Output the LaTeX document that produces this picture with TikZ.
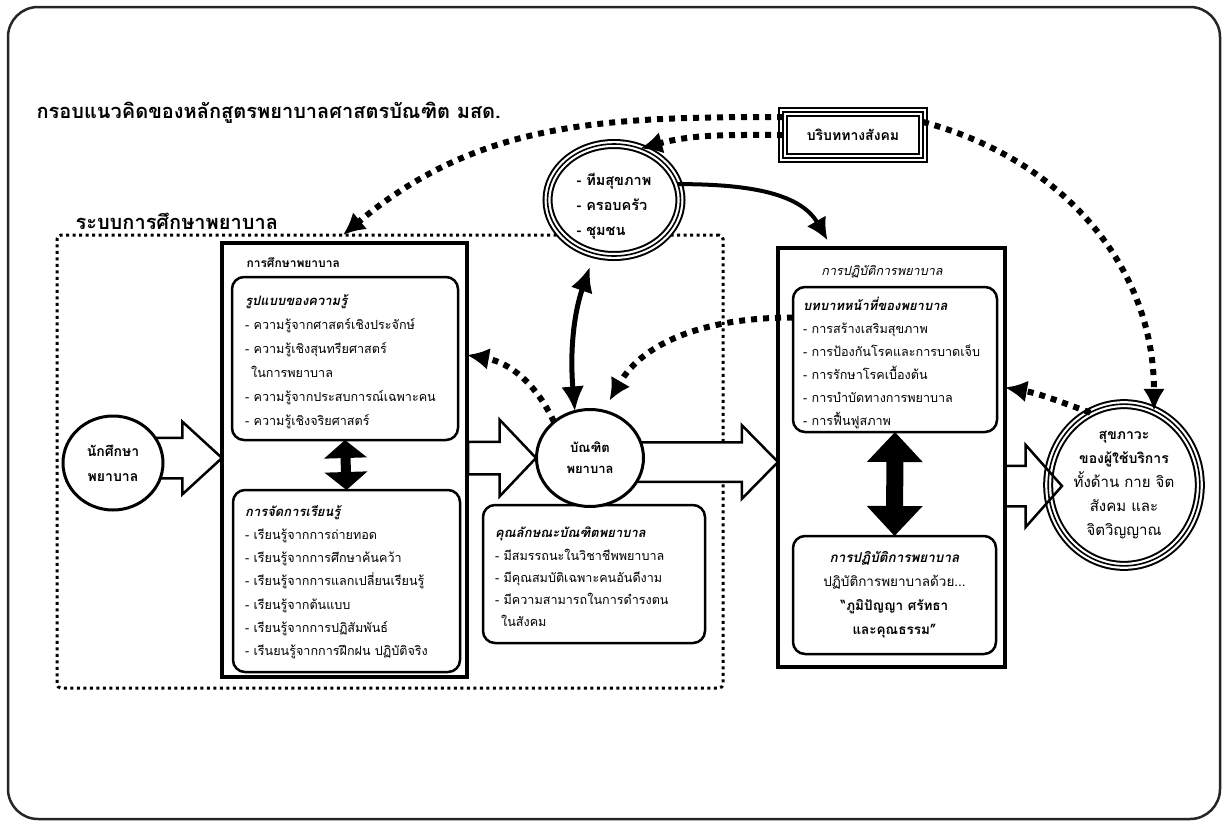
\documentclass[tikz,border=0pt]{standalone}
\usepackage{fontspec}
\setmainfont[Script=Thai]{Loma}
\usetikzlibrary{shapes.geometric,shapes.arrows,arrows.meta,positioning}

\tikzset{
  bigbox/.style={draw, line width=4pt, outer sep=0pt, anchor=north west},
  softbox/.style={draw, fill=white, line width=2.5pt, rounded corners=12pt, outer sep=0pt, anchor=north west},
  listtext/.style={anchor=west, align=left, inner sep=0pt, font=\fontsize{12.6}{#1}\selectfont},
  triple/.style={draw, line width=10pt, fill=white, outer sep=0pt, postaction={draw=white, line width=6pt}, postaction={draw=black, line width=1.6pt}},
  roundnode/.style={ellipse, draw, line width=3pt, fill=white, outer sep=0pt, align=center, font=\fontsize{14}{25}\selectfont\bfseries},
  blockarr/.style={single arrow, draw, line width=2.5pt, fill=white, outer sep=0pt, inner xsep=0pt, single arrow head indent=0pt, anchor=tip, minimum height=#1},
  dotarrow/.style={line width=6pt, dash pattern=on 6pt off 6pt, -{Latex[length=22pt,width=22pt]}},
}
\newcommand{\bt}[1]{{\fontsize{13}{16}\selectfont\bfseries\itshape #1}}

\begin{document}
\begin{tikzpicture}[x=1pt,y=1pt]
\useasboundingbox (0,0) rectangle (1227,-828);
\draw [line width=2.5pt, draw=black!85, rounded corners=30pt] (8,-7) rectangle (1220,-819);

\node [anchor=west, font=\fontsize{20}{24}\selectfont\bfseries] (title) at (33,-113) {กรอบแนวคิดของหลักสูตรพยาบาลศาสตรบัณฑิต มสด.};
\node [anchor=west, font=\fontsize{20}{24}\selectfont\bfseries] (systitle) at (72,-221) {ระบบการศึกษาพยาบาล};
\node [draw, line width=3pt, dash pattern=on 3pt off 3.5pt, rounded corners=4pt, outer sep=0pt, anchor=north west, minimum width=666pt, minimum height=453pt] (sys) at (57,-235) {};

\node [bigbox, minimum width=245pt, minimum height=434pt] (edu) at (222,-243) {};
\node [anchor=west, font=\fontsize{12}{15}\selectfont\bfseries] (edulbl) at (243,-263) {การศึกษาพยาบาล};
\node [softbox, minimum width=226pt, minimum height=163pt] (know) at (232,-277) {};
\node [listtext=24] (knowtxt) at ([shift={(13pt,-3pt)}]know.west)
  {\bt{รูปแบบของความรู้}\\
   - ความรู้จากศาสตร์เชิงประจักษ์\\
   - ความรู้เชิงสุนทรียศาสตร์\\
   \hspace*{6pt}ในการพยาบาล\\
   - ความรู้จากประสบการณ์เฉพาะคน\\
   - ความรู้เชิงจริยศาสตร์};
\node [softbox, minimum width=227pt, minimum height=182pt] (learn) at (233,-490) {};
\node [listtext=23.2] (learntxt) at ([shift={(12pt,-1pt)}]learn.west)
  {\bt{การจัดการเรียนรู้}\\
   - เรียนรู้จากการถ่ายทอด\\
   - เรียนรู้จากการศึกษาค้นคว้า\\
   - เรียนรู้จากการแลกเปลี่ยนเรียนรู้\\
   - เรียนรู้จากต้นแบบ\\
   - เรียนรู้จากการปฏิสัมพันธ์\\
   - เรีนยนรู้จากการฝึกฝน ปฏิบัติจริง};
\draw [line width=10pt, {Triangle[length=18pt,width=42pt]}-{Triangle[length=18pt,width=42pt]}] (know.south) -- (learn.north);

\node [bigbox, minimum width=227pt, minimum height=419pt] (prac) at (778,-248) {};
\node [font=\fontsize{12.6}{16}\selectfont\itshape] (praclbl) at (882,-272) {การปฏิบัติการพยาบาล};
\node [softbox, minimum width=204pt, minimum height=145pt] (role) at (793,-287) {};
\node [listtext=23] (roletxt) at ([shift={(10pt,-3pt)}]role.west)
  {\bt{บทบาทหน้าที่ของพยาบาล}\\
   - การสร้างเสริมสุขภาพ\\
   - การป้องกันโรคและการบาดเจ็บ\\
   - การรักษาโรคเบื้องต้น\\
   - การบำบัดทางการพยาบาล\\
   - การฟื้นฟูสภาพ};
\node [softbox, minimum width=203pt, minimum height=118pt, align=center, font=\fontsize{13.5}{24}\selectfont] (wisdom) at (793,-536)
  {{\fontsize{13.5}{24}\selectfont\bfseries\itshape การปฏิบัติการพยาบาล}\\
   ปฏิบัติการพยาบาลด้วย...\\
   \textbf{“ภูมิปัญญา ศรัทธา}\\
   \textbf{และคุณธรรม”}};
\draw [line width=17pt, {Triangle[length=30pt,width=54pt]}-{Triangle[length=30pt,width=54pt]}] (role.south) -- (wisdom.north);

\node [softbox, minimum width=222pt, minimum height=138pt] (qual) at (483,-505) {};
\node [listtext=22.3] (qualtxt) at ([shift={(12pt,-3pt)}]qual.west)
  {\bt{คุณลักษณะบัณฑิตพยาบาล}\\
   - มีสมรรถนะในวิชาชีพพยาบาล\\
   - มีคุณสมบัติเฉพาะคนอันดีงาม\\
   - มีความสามารถในการดำรงตน\\
   \hspace*{6pt}ในสังคม};

\node [blockarr=75pt, inner ysep=19pt, single arrow head extend=16pt, single arrow tip angle=85] (arrstu) at (edu.west |- 0,-458) {};
\node [blockarr=68pt, inner ysep=15pt, single arrow head extend=22pt, single arrow tip angle=93] (arredu) at (536,-458) {};
\node [blockarr=175pt, inner ysep=18.5pt, single arrow head extend=17pt, single arrow tip angle=91] (arrgrad) at (prac.west |- 0,-462) {};

\node [roundnode, minimum width=100pt, minimum height=94pt] (stu) at (113,-463) {นักศึกษา\\พยาบาล};
\node [roundnode, minimum width=107pt, minimum height=97pt, font=\fontsize{13}{21}\selectfont\bfseries] (grad) at (590,-458) {บัณฑิต\\พยาบาล};
\node [ellipse, triple, minimum width=133pt, minimum height=112pt] (health) at (614,-200) {};
\node [align=left, inner sep=0pt, font=\fontsize{14.5}{25}\selectfont\bfseries] (healthtxt) at ([yshift=-6pt]health) {- ทีมสุขภาพ\\- ครอบครัว\\- ชุมชน};
\node [ellipse, triple, minimum width=150pt, minimum height=142pt, align=center, font=\fontsize{15}{24}\selectfont] (well) at (1124,-485)
  {{\fontsize{14}{24}\selectfont\bfseries สุขภาวะ}\\{\fontsize{14}{24}\selectfont\bfseries ของผู้ใช้บริการ}\\ทั้งด้าน กาย จิต\\สังคม และ\\จิตวิญญาณ};
\node [rectangle, triple, minimum width=140pt, minimum height=46pt, font=\fontsize{14}{16}\selectfont\bfseries] (social) at (853,-135) {บริบททางสังคม};

\node [blockarr=57pt, fill=none, anchor=tail, inner ysep=19pt, single arrow head extend=21pt, single arrow tip angle=97] (arrprac) at (prac.east |- 0,-486) {};

\coordinate (sysin) at (343,-235);
\draw [dotarrow] ([yshift=18pt]social.west) to[out=180,in=40] (sysin);
\draw [dotarrow] (social.west) to[out=180,in=15] (health.63);
\draw [dotarrow] ([yshift=13pt]social.east) to[out=-15,in=90] (well.68);
\draw [dotarrow] (grad.135) to[out=115,in=-10] ([yshift=105pt]edu.east);
\draw [dotarrow, shorten >=12pt] ([yshift=42pt]role.west) to[out=180,in=60] (grad.74);
\draw [dotarrow] (well.115) to[out=160,in=-10] ([yshift=70pt]prac.east);
\draw [line width=4pt, -{Latex[length=22pt,width=22pt]}, shorten >=9pt] (health.14) to[out=0,in=120] ([xshift=54pt]prac.north west);
\draw [line width=5pt, {Latex[length=25pt,width=23pt]}-{Latex[length=25pt,width=23pt]}, shorten <=14pt] (health.-110) to[bend right=12] (grad.108);
\end{tikzpicture}
\end{document}
